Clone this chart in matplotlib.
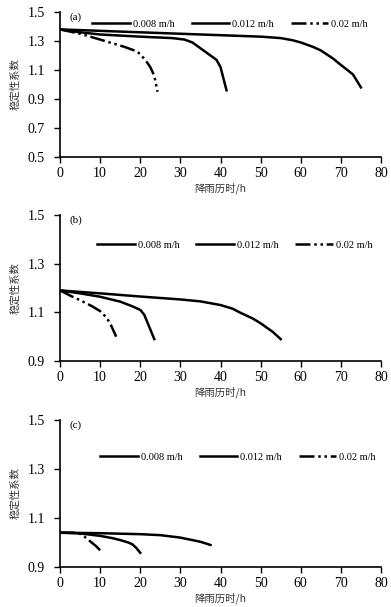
import matplotlib.pyplot as plt

plt.rcParams['font.family'] = ['Liberation Serif', 'Noto Sans CJK SC']

# Data
labels = ['0.008 m/h', '0.012 m/h', '0.02 m/h']
panels = ['(a)', '(b)', '(c)']

# (a)
a_x1 = [0, 10, 20, 30, 40, 50, 55, 58, 60, 63, 65, 68, 70, 73, 75]
a_y1 = [1.38, 1.37, 1.36, 1.35, 1.34, 1.33, 1.32, 1.305, 1.29, 1.26, 1.235, 1.18, 1.135, 1.07, 0.98]
a_x2 = [0, 5, 10, 20, 28, 31, 33, 35, 37, 39, 40, 41.5]
a_y2 = [1.38, 1.36, 1.345, 1.33, 1.32, 1.31, 1.29, 1.25, 1.21, 1.17, 1.12, 0.96]
a_x3 = [0, 5, 10, 16, 19, 20, 21.5, 22.5, 23.5, 24.3]
a_y3 = [1.38, 1.35, 1.31, 1.26, 1.23, 1.21, 1.16, 1.12, 1.06, 0.95]

# (b)
b_x1 = [0, 10, 20, 30, 35, 40, 43, 45, 48, 50, 53, 55]
b_y1 = [1.19, 1.178, 1.165, 1.153, 1.145, 1.13, 1.115, 1.098, 1.075, 1.055, 1.02, 0.99]
b_x2 = [0, 5, 10, 15, 18, 20, 21, 22, 23.5]
b_y2 = [1.19, 1.178, 1.164, 1.144, 1.125, 1.11, 1.09, 1.05, 0.99]
b_x3 = [0, 3, 5, 8, 10, 11.5, 12.5, 14]
b_y3 = [1.19, 1.165, 1.15, 1.125, 1.105, 1.08, 1.055, 1.0]

# (c)
c_x1 = [0, 10, 20, 25, 30, 35, 37.5]
c_y1 = [1.04, 1.038, 1.034, 1.03, 1.02, 1.003, 0.99]
c_x2 = [0, 5, 10, 13, 15, 17, 18, 19, 20]
c_y2 = [1.04, 1.037, 1.027, 1.018, 1.01, 1.0, 0.993, 0.978, 0.958]
c_x3 = [0, 4, 5, 6, 7.5, 9, 10]
c_y3 = [1.04, 1.04, 1.035, 1.025, 1.005, 0.985, 0.968]

series = [
    [(a_x1, a_y1), (a_x2, a_y2), (a_x3, a_y3)],
    [(b_x1, b_y1), (b_x2, b_y2), (b_x3, b_y3)],
    [(c_x1, c_y1), (c_x2, c_y2), (c_x3, c_y3)],
]
ylims = [(0.5, 1.5), (0.9, 1.5), (0.9, 1.5)]
yticks = [[0.5, 0.7, 0.9, 1.1, 1.3, 1.5], [0.9, 1.1, 1.3, 1.5], [0.9, 1.1, 1.3, 1.5]]
legend_y = [0.917, 0.795, 0.748]
legend_x = [0.53, 0.545, 0.555]
styles = ['-', '-', (0, (6, 1.5, 1, 1.5, 1, 1.5))]

W, H = 391, 607
fig = plt.figure(figsize=(W / 100, H / 100), dpi=100)
# axes boxes in pixels: left, top, right, bottom
boxes = [(60, 12, 381, 157), (60, 215, 381, 361), (60, 420, 381, 567)]

for i, (l, t, r, b) in enumerate(boxes):
    ax = fig.add_axes([l / W, 1 - b / H, (r - l) / W, (b - t) / H])
    for j, (x, y) in enumerate(series[i]):
        ax.plot(x, y, color='black', linestyle=styles[j], lw=1.8, label=labels[j])
    ax.set_xlim(0, 80)
    ax.set_ylim(*ylims[i])
    ax.set_xticks(range(0, 81, 10))
    ax.set_yticks(yticks[i])
    ax.set_yticklabels([f'{v:.1f}' for v in yticks[i]])
    ax.spines['top'].set_visible(False)
    ax.spines['right'].set_visible(False)
    ax.spines['left'].set_linewidth(1.2)
    ax.spines['bottom'].set_linewidth(1.2)
    ax.tick_params(direction='out', length=4, width=1, labelsize=10)
    ax.tick_params(axis='y', pad=7)
    ax.tick_params(axis='x', pad=3)
    ax.text(0.03, 0.995, panels[i], transform=ax.transAxes, fontsize=8, va='top')
    ax.set_xlabel('降雨历时/h', fontsize=7.5, color='#333333', labelpad=2,
                  family=['Noto Sans CJK SC', 'Liberation Serif'])
    ax.set_ylabel('稳定性系数', fontsize=7.5, color='#333333', labelpad=5,
                  family=['Noto Sans CJK SC', 'Liberation Serif'])
    ax.legend(loc='center', bbox_to_anchor=(legend_x[i], legend_y[i]), ncol=3, frameon=False,
              fontsize=7.5, handlelength=3.6, columnspacing=1.6, handletextpad=0.3)

fig.savefig('out.png', dpi=100)
